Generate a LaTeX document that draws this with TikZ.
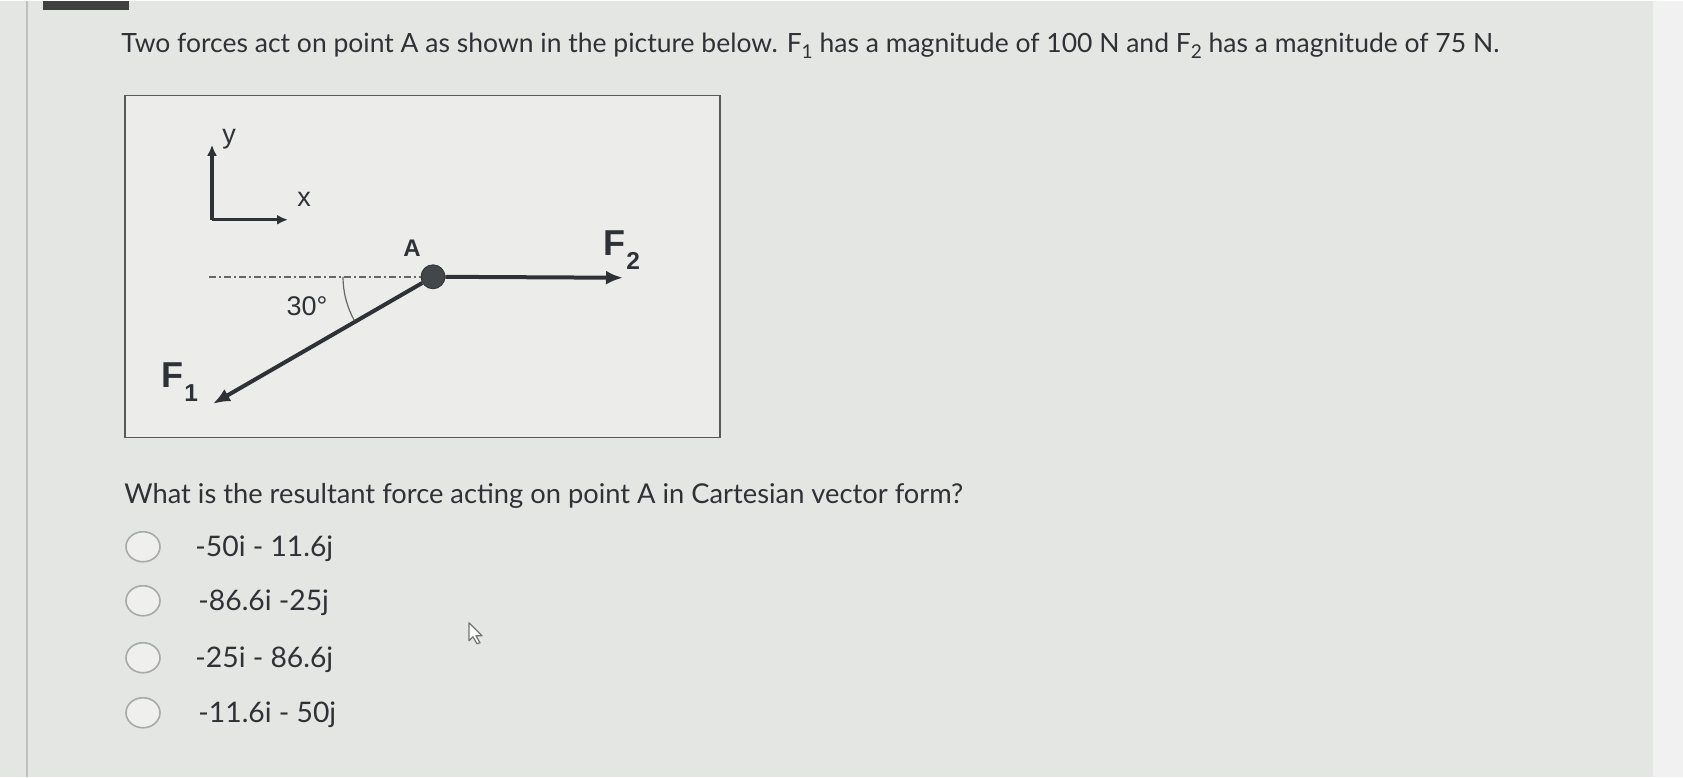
\documentclass[tikz,border=0pt]{standalone}
\usepackage{fontspec}
\usepackage{graphicx}
\setmainfont{Lato}
\newfontfamily\diagfont{Liberation Sans}
\usetikzlibrary{arrows.meta,calc,shapes.geometric}
\definecolor{pagebg}{HTML}{E4E6E3}
\definecolor{inkgray}{HTML}{2E3236}
\definecolor{ringgray}{HTML}{A8AAA7}
\newcommand{\lowidx}[1]{\raisebox{-0.45ex}{\scalebox{0.72}{#1}}}
\newcommand{\forceidx}[1]{\hspace{1pt}\raisebox{-0.7ex}{\scalebox{0.68}{#1}}}

\begin{document}
\begin{tikzpicture}[x=1pt,y=-1pt,thick]
    % `qtext' is used for the question and the answers.
    % `force' is used for F1 and F2, `axis' for the small x-y frame.
    % `radio' is used for the empty answer circles.
    \tikzstyle{qtext} = [anchor=base west,inner sep=0pt,text=inkgray,font=\fontsize{27.3}{30}\selectfont]
    \tikzstyle{label} = [inner sep=0pt,text=inkgray,font=\diagfont\fontsize{27}{30}\selectfont]
    \tikzstyle{flabel} = [anchor=base west,inner sep=0pt,text=inkgray,font=\diagfont\bfseries\fontsize{36}{40}\selectfont]
    \tikzstyle{force} = [line width=4pt,draw=inkgray,-{Latex[length=17pt,width=14pt]}]
    \tikzstyle{axis} = [line width=3.2pt,draw=inkgray,-{Latex[length=11pt,width=10pt]}]
    \tikzstyle{radio} = [draw=ringgray,fill=pagebg!60!white,line width=1.6pt,ellipse,minimum width=34pt,minimum height=30pt,inner sep=0pt]
    \tikzstyle{surround} = [draw=black!65,fill=pagebg!70!white,line width=1.5pt]
    %
    % Page.
    \fill[pagebg] (0,0) rectangle (1683,776);
    \fill[pagebg!55!white] (1653,0) rectangle (1683,776);
    \draw[black!25,line width=1.5pt] (27,0) -- (27,776);
    \fill[black!75] (43,0) rectangle (129,9);
    %
    \node[qtext,font=\fontsize{26.5}{30}\selectfont] (title) at (121,52) {Two forces act on point A as shown in the picture below. F\lowidx{1} has a magnitude of 100 N and F\lowidx{2} has a magnitude of 75 N.};
    %
    % Diagram frame.
    \node[surround,minimum width=595pt,minimum height=342pt,anchor=north west] (frame) at (124,94) {};
    %
    % Axes.
    \coordinate (orig) at (212,219);
    \coordinate (ytip) at (212,144);
    \coordinate (xtip) at (288,219);
    \draw[axis] (orig) -- (ytip);
    \draw[axis] (orig) -- (xtip);
    \node[label] (ylab) at (229,138) {y};
    \node[label] (xlab) at (304,199) {x};
    %
    % Point A and the forces.
    \node[draw=inkgray,fill=inkgray!90,circle,minimum size=24pt,inner sep=0pt] (ptA) at (433,276) {};
    \coordinate (refl) at (209,276);
    \coordinate (f2end) at (623,277);
    \coordinate (f1end) at (213,403);
    \draw[black!60,line width=1.5pt,dash pattern=on 7pt off 3pt on 2pt off 3pt] (refl) -- (ptA.west);
    \draw[force] (ptA) -- (f2end);
    \draw[force] (ptA) -- (f1end);
    \draw[black!60,line width=1.2pt] (ptA) ++(180:90) arc[start angle=180,end angle=151,radius=90];
    \node[label,font=\diagfont\bfseries\fontsize{24}{28}\selectfont] (Alab) at (412,247) {A};
    \node[label] (anglab) at (307,305) {30°};
    \node[flabel] (F2lab) at (603,255) {F\forceidx{2}};
    \node[flabel] (F1lab) at (161,387) {F\forceidx{1}};
    %
    % Question and answers.
    \node[qtext] (quest) at (124,503) {What is the resultant force acting on point A in Cartesian vector form?};
    \node[radio] (r1) at (143,546) {};
    \node[radio] (r2) at (143,600) {};
    \node[radio] (r3) at (143,657) {};
    \node[radio] (r4) at (143,712) {};
    \node[qtext,font=\fontsize{28.3}{32}\selectfont] (a1) at (195,556) {-50i - 11.6j};
    \node[qtext,font=\fontsize{28.3}{32}\selectfont] (a2) at (198,610) {-86.6i -25j};
    \node[qtext,font=\fontsize{28.3}{32}\selectfont] (a3) at (195,667) {-25i - 86.6j};
    \node[qtext,font=\fontsize{28.3}{32}\selectfont] (a4) at (198,722) {-11.6i - 50j};
    %
    % Mouse pointer.
    \draw[black!55,fill=white!90!pagebg,line width=1.2pt,line join=round]
      (469,622) -- (469,640) -- (473,636) -- (477,643) -- (480,642) -- (476,635) -- (482,635) -- cycle;
\end{tikzpicture}
\end{document}
